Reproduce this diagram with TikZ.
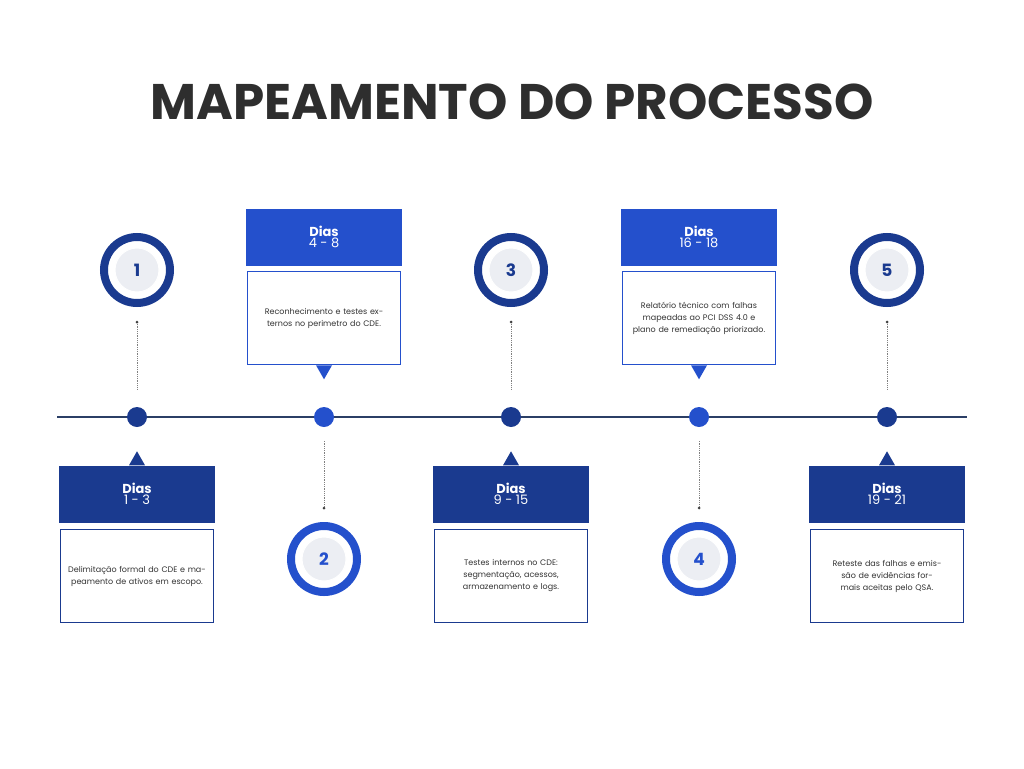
\documentclass[tikz,border=0pt]{standalone}
\usepackage{fontspec}
\setmainfont{Poppins}
\usetikzlibrary{positioning}
\definecolor{navy}{HTML}{1A3A8F}
\definecolor{royal}{HTML}{2450CC}
\definecolor{linec}{HTML}{2B3F66}
\definecolor{titlec}{HTML}{2E2E2E}
\definecolor{plate}{HTML}{ECEEF3}
\tikzset{
  hdr/.style={fill=#1, draw=none, minimum width=156pt, minimum height=57pt, text=white, align=center, inner sep=0pt},
  txt/.style={draw=#1, line width=1.6pt, fill=white, minimum width=153pt, minimum height=93pt, align=center, text width=140pt, inner sep=0pt, font=\fontsize{8}{12}\selectfont, text=black!80},
  ring/.style={circle, draw=#1, line width=8pt, fill=white, minimum size=66pt, inner sep=0pt},
  knob/.style={circle, fill=plate, draw=white, line width=1pt, minimum size=44pt, inner sep=0pt, text=#1, font=\fontsize{17}{17}\selectfont\bfseries},
  dot/.style={circle, fill=#1, minimum size=20pt, inner sep=0pt},
  stem/.style={densely dotted, line width=0.8pt, gray},
  tip/.style={circle, fill=black!75, inner sep=0pt, minimum size=3pt}
}
\newcommand{\dias}[1]{{\fontsize{13}{15}\selectfont\bfseries Dias}\\[-1pt]{\fontsize{13}{15}\selectfont #1}}
\begin{document}
\begin{tikzpicture}[x=1pt,y=-1pt]
  \useasboundingbox (0,0) rectangle (1024,768);
  % title
  \node[text=titlec, font=\fontsize{50}{50}\selectfont\bfseries] (title) at (512,102) {MAPEAMENTO DO PROCESSO};
  % timeline
  \coordinate (tl) at (57,417);
  \coordinate (tr) at (967,417);
  \draw[linec, line width=1.8pt] (tl) -- (tr);
  % dots on the line
  \node[dot=navy]  (d1) at (137,417) {};
  \node[dot=royal] (d2) at (324,417) {};
  \node[dot=navy]  (d3) at (511,417) {};
  \node[dot=royal] (d4) at (699,417) {};
  \node[dot=navy]  (d5) at (887,417) {};
  % numbered circles
  \node[ring=navy]  (c1) at (137,270) {};
  \node[knob=navy]  at (c1) {1};
  \node[ring=royal] (c2) at (324,559) {};
  \node[knob=royal] at (c2) {2};
  \node[ring=navy]  (c3) at (511,270) {};
  \node[knob=navy]  at (c3) {3};
  \node[ring=royal] (c4) at (699,559) {};
  \node[knob=royal] at (c4) {4};
  \node[ring=navy]  (c5) at (887,270) {};
  \node[knob=navy]  at (c5) {5};
  % dotted stems
  \foreach \i in {1,3,5} {
    \node[tip] (s\i) at ([yshift=-52pt]c\i.center) {};
    \draw[stem] (s\i) -- ([yshift=27pt]d\i.center);
  }
  \foreach \i in {2,4} {
    \node[tip] (s\i) at ([yshift=51pt]c\i.center) {};
    \draw[stem] (s\i) -- ([yshift=-23pt]d\i.center);
  }
  % lower boxes
  \node[hdr=navy] (h1) at (137,494) {\dias{1 - 3}};
  \node[txt=navy, below=6pt of h1] (b1) {Delimitação formal do CDE e mapeamento de ativos em escopo.};
  \fill[navy] ([xshift=-8pt]h1.north) -- ([yshift=14pt]h1.north) -- ([xshift=8pt]h1.north) -- cycle;
  \node[hdr=navy] (h3) at (511,494) {\dias{9 - 15}};
  \node[txt=navy, below=6pt of h3] (b3) {Testes internos no CDE: segmentação, acessos, armazenamento e logs.};
  \fill[navy] ([xshift=-8pt]h3.north) -- ([yshift=14pt]h3.north) -- ([xshift=8pt]h3.north) -- cycle;
  \node[hdr=navy] (h5) at (887,494) {\dias{19 - 21}};
  \node[txt=navy, below=6pt of h5] (b5) {Reteste das falhas e emissão de evidências formais aceitas pelo QSA.};
  \fill[navy] ([xshift=-8pt]h5.north) -- ([yshift=14pt]h5.north) -- ([xshift=8pt]h5.north) -- cycle;
  % upper boxes
  \node[hdr=royal] (h2) at (324,237) {\dias{4 - 8}};
  \node[txt=royal, below=5pt of h2] (b2) {Reconhecimento e testes externos no perimetro do CDE.};
  \fill[royal] ([xshift=-8pt]b2.south) -- ([yshift=-14pt]b2.south) -- ([xshift=8pt]b2.south) -- cycle;
  \node[hdr=royal] (h4) at (699,237) {\dias{16 - 18}};
  \node[txt=royal, below=5pt of h4] (b4) {Relatório técnico com falhas mapeadas ao PCI DSS 4.0 e plano de remediação priorizado.};
  \fill[royal] ([xshift=-8pt]b4.south) -- ([yshift=-14pt]b4.south) -- ([xshift=8pt]b4.south) -- cycle;
\end{tikzpicture}
\end{document}
